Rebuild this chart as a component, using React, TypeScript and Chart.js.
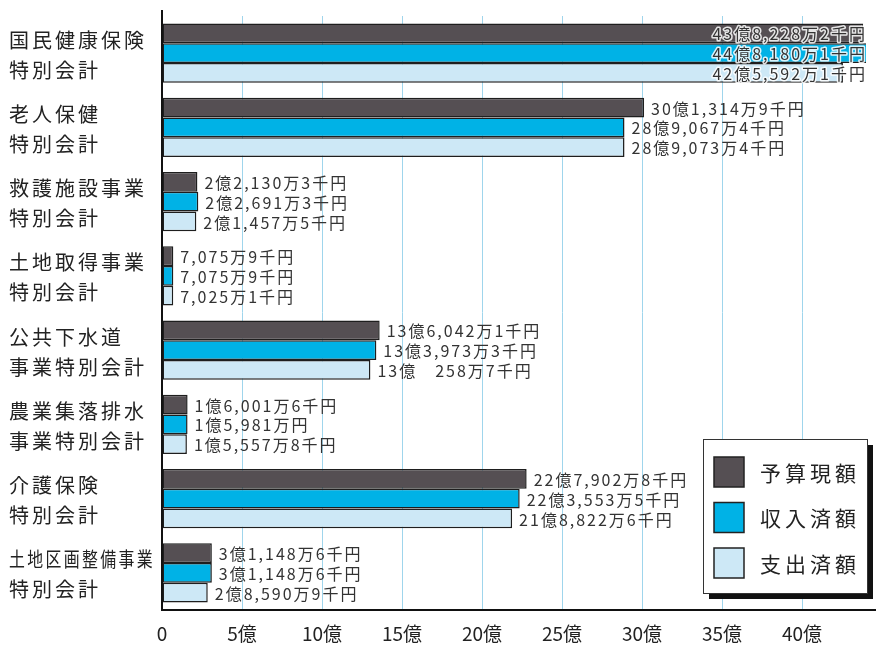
import React, { useEffect, useRef } from "react";
import { Chart, registerables } from "chart.js";

Chart.register(...registerables);

const categories: string[][] = [
  ["国民健康保険", "特別会計"],
  ["老人保健", "特別会計"],
  ["救護施設事業", "特別会計"],
  ["土地取得事業", "特別会計"],
  ["公共下水道", "事業特別会計"],
  ["農業集落排水", "事業特別会計"],
  ["介護保険", "特別会計"],
  ["土地区画整備事業", "特別会計"],
];

const seriesNames = ["予算現額", "収入済額", "支出済額"];

// values in 億円
const budget = [43.82282, 30.13149, 2.21303, 0.70759, 13.60421, 1.60016, 22.79028, 3.11486];
const revenue = [44.81801, 28.90674, 2.26913, 0.70759, 13.39733, 1.5981, 22.35535, 3.11486];
const expense = [42.55921, 28.90734, 2.14575, 0.70251, 13.02587, 1.55578, 21.88226, 2.85909];

const budgetLabels = ["43億8,228万2千円", "30億1,314万9千円", "2億2,130万3千円", "7,075万9千円", "13億6,042万1千円", "1億6,001万6千円", "22億7,902万8千円", "3億1,148万6千円"];
const revenueLabels = ["44億8,180万1千円", "28億9,067万4千円", "2億2,691万3千円", "7,075万9千円", "13億3,973万3千円", "1億5,981万円", "22億3,553万5千円", "3億1,148万6千円"];
const expenseLabels = ["42億5,592万1千円", "28億9,073万4千円", "2億1,457万5千円", "7,025万1千円", "13億　258万7千円", "1億5,557万8千円", "21億8,822万6千円", "2億8,590万9千円"];

const xTicks = [0, 5, 10, 15, 20, 25, 30, 35, 40];
const xMax = 44;

const colors = ["#554f53", "#00b2e6", "#cde8f6"];
const FONT = '"Noto Sans CJK JP", "Noto Sans", sans-serif';

const labelPlugin = {
  id: "customLabels",
  beforeDatasetsDraw(chart: any) {
    const ctx = chart.ctx;
    const area = chart.chartArea;
    ctx.save();
    ctx.strokeStyle = "#111";
    ctx.lineWidth = 2;
    ctx.beginPath();
    ctx.moveTo(area.left, 10);
    ctx.lineTo(area.left, area.top);
    ctx.moveTo(area.right, area.bottom);
    ctx.lineTo(chart.width, area.bottom);
    ctx.stroke();
    ctx.restore();
  },
  afterDatasetsDraw(chart: any) {
    const ctx = chart.ctx;
    const area = chart.chartArea;
    const allLabels = [budgetLabels, revenueLabels, expenseLabels];
    ctx.save();
    ctx.font = `16px ${FONT}`;
    (ctx as any).letterSpacing = "2px";
    ctx.textBaseline = "middle";
    allLabels.forEach((labels, di) => {
      const meta = chart.getDatasetMeta(di);
      meta.data.forEach((el: any, i: number) => {
        const text = labels[i];
        const w = ctx.measureText(text).width;
        let x = Math.min(el.x, area.right) + 7;
        const y = el.y + 1;
        ctx.textAlign = "left";
        if (x + w > chart.width - 6) {
          x = chart.width - 9 - w;
          ctx.lineWidth = 3;
          ctx.strokeStyle = "rgba(255,255,255,0.85)";
          ctx.lineJoin = "round";
          ctx.strokeText(text, x, y);
        }
        ctx.fillStyle = "#333";
        ctx.fillText(text, x, y);
      });
    });

    // category labels
    const yScale = chart.scales.y;
    ctx.font = `20px ${FONT}`;
    (ctx as any).letterSpacing = "3px";
    ctx.fillStyle = "#222";
    ctx.textAlign = "left";
    categories.forEach((lines, i) => {
      const cy = yScale.getPixelForValue(i);
      lines.forEach((line, li) => {
        const w = ctx.measureText(line).width;
        const maxW = 146;
        const sx = w > maxW ? maxW / w : 1;
        ctx.save();
        ctx.translate(9, cy - 13 + li * 30);
        ctx.scale(sx, 1);
        ctx.fillText(line, 0, 0);
        ctx.restore();
      });
    });
    ctx.restore();
  },
  afterDraw(chart: any) {
    const ctx = chart.ctx;
    ctx.save();
    const bx = 703, by = 439, bw = 164, bh = 154;
    ctx.fillStyle = "#111";
    ctx.fillRect(bx + 6, by + 6, bw, bh);
    ctx.fillStyle = "#fff";
    ctx.fillRect(bx, by, bw, bh);
    ctx.strokeStyle = "#333";
    ctx.lineWidth = 1;
    ctx.strokeRect(bx + 0.5, by + 0.5, bw, bh);
    ctx.font = `21px ${FONT}`;
    (ctx as any).letterSpacing = "4px";
    ctx.textBaseline = "middle";
    ctx.textAlign = "left";
    seriesNames.forEach((name, i) => {
      const cy = by + 33 + i * 45.5;
      ctx.fillStyle = colors[i];
      ctx.fillRect(bx + 11, cy - 15, 30, 30);
      ctx.strokeStyle = "#222";
      ctx.lineWidth = 1.5;
      ctx.strokeRect(bx + 11, cy - 15, 30, 30);
      ctx.fillStyle = "#222";
      ctx.fillText(name, bx + 57, cy + 1);
    });
    ctx.restore();
  },
};

export default function App() {
  const ref = useRef<HTMLCanvasElement>(null);
  useEffect(() => {
    if (!ref.current) return;
    const chart = new Chart(ref.current, {
      type: "bar",
      data: {
        labels: categories.map((c) => c.join("")),
        datasets: [budget, revenue, expense].map((d, i) => ({
          label: seriesNames[i],
          data: d,
          backgroundColor: colors[i],
          borderColor: "#1e1e1e",
          borderWidth: 1.5,
          borderSkipped: false,
          categoryPercentage: 0.8,
          barPercentage: 1.0,
        })),
      },
      options: {
        indexAxis: "y",
        responsive: false,
        animation: false,
        devicePixelRatio: 1,
        layout: { padding: { left: 10, right: 10, top: 16, bottom: 0 } },
        plugins: { legend: { display: false }, tooltip: { enabled: false } },
        scales: {
          x: {
            min: 0,
            max: xMax,
            afterBuildTicks: (scale: any) => {
              scale.ticks = xTicks.map((v) => ({ value: v }));
            },
            afterFit: (scale: any) => {
              scale.height = 39;
            },
            grid: { color: "#9fd5ec", lineWidth: 1, drawTicks: false },
            border: { color: "#111", width: 2 },
            ticks: {
              padding: 12,
              color: "#222",
              font: { size: 19, family: FONT },
              callback: (v: any) => (v === 0 ? "0" : `${v}億`),
            },
          },
          y: {
            ticks: { display: false },
            grid: { display: false, drawTicks: false },
            border: { color: "#111", width: 2 },
            afterFit: (scale: any) => {
              scale.width = 152;
            },
          },
        },
      },
      plugins: [labelPlugin],
    });
    return () => chart.destroy();
  }, []);
  return (
    <div style={{ position: "fixed", left: 0, top: 0, width: 876, height: 649, background: "#fff" }}>
      <canvas ref={ref} width={876} height={649} />
    </div>
  );
}
